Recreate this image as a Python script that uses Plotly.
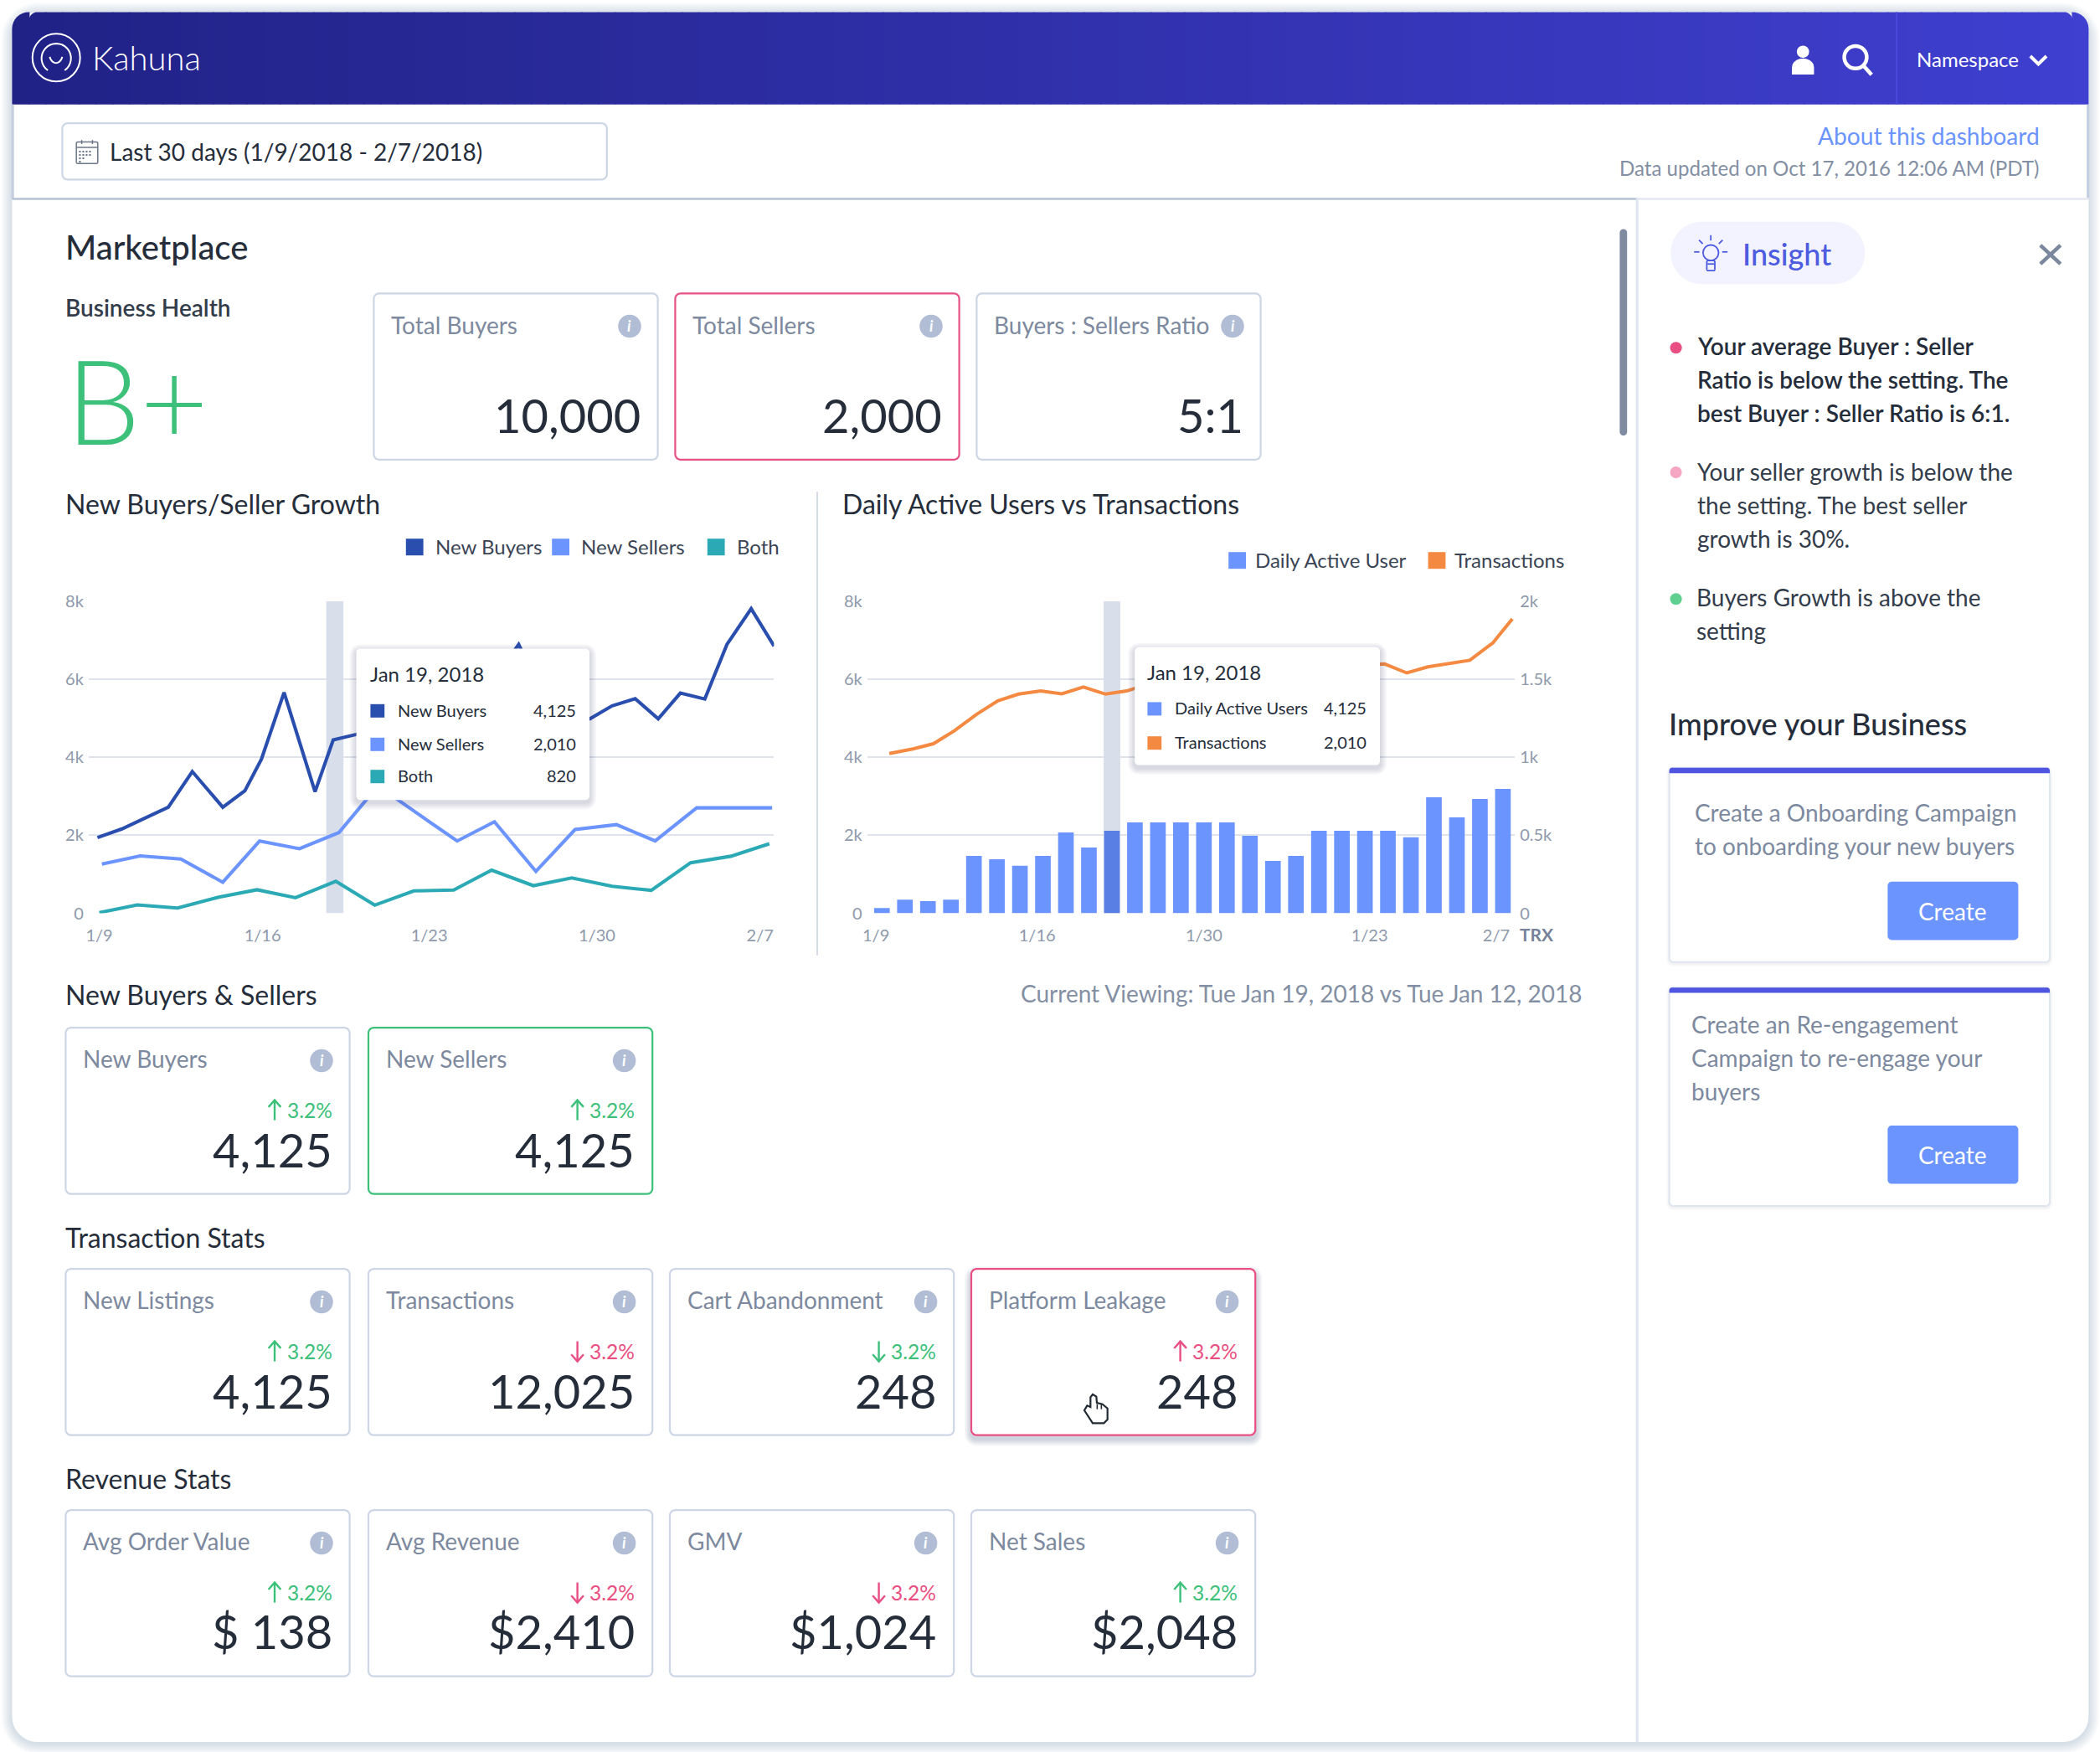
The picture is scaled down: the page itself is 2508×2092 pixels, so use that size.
import math
import plotly.graph_objects as go

# ---------- chart data ----------
buyers_day = [-0.04, 1.01, 2.0, 3.0, 4.03, 5.34, 6.29, 7.0, 7.97, 9.3, 10.08, 11.08, 12.1, 13.1, 14.1, 15.1, 16.1, 17.1,
              18.04, 19.09, 20.08, 21.1, 22.05, 23.04, 24.03, 24.98, 26.03, 26.98, 28.02, 29.0]
buyers_val = [1940, 2163, 2440, 2720, 3634, 2720, 3141, 3952, 5662, 3117, 4445, 4588, 4800, 5100, 4900, 5400, 5700, 6100,
              6895, 5600, 5200, 4986, 5320, 5503, 4986, 5646, 5495, 6895, 7809, 6855]
sellers_day = [0.15, 1.79, 3.54, 5.34, 6.92, 8.63, 10.32, 12.0, 13.71, 15.4, 17.0, 18.78, 20.46, 22.24, 23.9, 25.68, 27.3, 28.92]
sellers_val = [1264, 1471, 1392, 795, 1853, 1654, 2068, 3268, 2553, 1853, 2346, 1074, 2147, 2274, 1853, 2704, 2704, 2704]
both_day = [0.04, 1.67, 3.4, 5.17, 6.81, 8.46, 10.19, 11.86, 13.54, 15.25, 16.88, 18.67, 20.32, 22.05, 23.73, 25.42, 27.15, 28.8]
both_val = [16, 215, 135, 413, 604, 398, 819, 207, 573, 596, 1105, 708, 907, 692, 588, 1296, 1463, 1781]
growth_tick_pos = [0.04, 7.05, 14.2, 21.4, 28.4]
growth_tick_txt = ["1/9", "1/16", "1/23", "1/30", "2/7"]

dau_val = [135, 350, 310, 350, 1471, 1384, 1217, 1471, 2075, 1686, 2115, 2330, 2330, 2330, 2330, 2330, 1988, 1344, 1471,
           2115, 2115, 2115, 2115, 1948, 2974, 2457, 2934, 3189]
trx_day = [0.32, 1.35, 2.24, 3.16, 4.12, 5.04, 5.94, 6.9, 7.82, 8.76, 9.72, 10.64, 11.6, 12.55, 13.5, 14.4, 15.35, 16.3,
           17.25, 18.2, 19.1, 20.0, 20.95, 21.86, 22.82, 23.74, 24.64, 25.56, 26.56, 27.41]
trx_val = [1024, 1054, 1087, 1171, 1276, 1362, 1405, 1425, 1407, 1451, 1405, 1425, 1470, 1490, 1510, 1505, 1530, 1545,
           1540, 1560, 1575, 1570, 1590, 1598, 1541, 1580, 1602, 1622, 1733, 1887]
dau_tick_pos = [-0.26, 6.75, 14.0, 21.2, 26.71]
dau_tick_txt = ["1/9", "1/16", "1/30", "1/23", "2/7"]
left_tick_val = [0, 2000, 4000, 6000, 8000]
left_tick_txt = ["0", "2k", "4k", "6k", "8k"]
right_tick_val = [0, 500, 1000, 1500, 2000]
right_tick_txt = ["0", "0.5k", "1k", "1.5k", "2k"]

# ---------- KPI cards: (x0, y0, title, value, delta direction, delta colour, border) ----------
GREEN, PINK = "#3cc07a", "#e94f82"
row1 = [(279, 219, "Total Buyers", "10,000", None, None, None),
        (504, 219, "Total Sellers", "2,000", None, None, PINK),
        (729, 219, "Buyers : Sellers Ratio", "5:1", None, None, None)]
row2 = [(49, 767, "New Buyers", "4,125", 1, GREEN, None),
        (275, 767, "New Sellers", "4,125", 1, GREEN, GREEN)]
row3 = [(49, 947, "New Listings", "4,125", 1, GREEN, None),
        (275, 947, "Transactions", "12,025", -1, PINK, None),
        (500, 947, "Cart Abandonment", "248", -1, GREEN, None),
        (725, 947, "Platform Leakage", "248", 1, PINK, PINK)]
row4 = [(49, 1127, "Avg Order Value", "$ 138", 1, GREEN, None),
        (275, 1127, "Avg Revenue", "$2,410", -1, PINK, None),
        (500, 1127, "GMV", "$1,024", -1, PINK, None),
        (725, 1127, "Net Sales", "$2,048", 1, GREEN, None)]

# ---------- helpers (display coordinates x 1.6 = page pixels) ----------
W, H, S = 2508, 2092, 1.6
FONT = "Lato"
DARK, GREY, BORDER = "#252d3a", "#7c899e", "#ccd6e6"
BLUE, NAVY, TEAL, ORANGE = "#6b94ff", "#2a4eae", "#2ba9b5", "#f48a42"
GRID = "#dfe4ec"
shapes, notes = [], []
xp = lambda x: x * S / W
yp = lambda y: 1 - y * S / H


def path(points, close=False, fill=None, color=None, width=0, layer="below", opacity=1):
    d = "M" + " L".join(f"{xp(a):.5f},{yp(b):.5f}" for a, b in points) + (" Z" if close else "")
    shapes.append(dict(type="path", path=d, xref="paper", yref="paper", layer=layer, opacity=opacity,
                       fillcolor=fill or "rgba(0,0,0,0)",
                       line=dict(color=color or "rgba(0,0,0,0)", width=width)))


def arc(cx, cy, rx, ry, a0, a1, n=24):
    return [(cx + rx * math.cos(math.radians(a0 + (a1 - a0) * i / n)),
             cy + ry * math.sin(math.radians(a0 + (a1 - a0) * i / n))) for i in range(n + 1)]


def rrect_pts(x0, y0, x1, y1, r, tl=True, tr=True, br=True, bl=True):
    pts = []
    pts += arc(x0 + r, y0 + r, r, r, 180, 270, 8) if tl else [(x0, y0)]
    pts += arc(x1 - r, y0 + r, r, r, 270, 360, 8) if tr else [(x1, y0)]
    pts += arc(x1 - r, y1 - r, r, r, 0, 90, 8) if br else [(x1, y1)]
    pts += arc(x0 + r, y1 - r, r, r, 90, 180, 8) if bl else [(x0, y1)]
    return pts


def rrect(x0, y0, x1, y1, r, fill=None, color=None, width=0, layer="below", opacity=1, **corners):
    path(rrect_pts(x0, y0, x1, y1, r, **corners), True, fill, color, width, layer, opacity)


def shadow(x0, y0, x1, y1, r, spread=6, dy=2, layer="below", alpha=0.035):
    for i in range(spread, 0, -1):
        rrect(x0 - i, y0 - i + dy, x1 + i, y1 + i + dy, r + i, fill=f"rgba(60,75,110,{alpha})", layer=layer)


def line(x0, y0, x1, y1, color, width=2, layer="below"):
    path([(x0, y0), (x1, y1)], color=color, width=width, layer=layer)


def dot(cx, cy, r, fill=None, color=None, width=0, layer="below"):
    shapes.append(dict(type="circle", xref="paper", yref="paper", layer=layer,
                       x0=xp(cx - r), x1=xp(cx + r), y0=yp(cy + r), y1=yp(cy - r),
                       fillcolor=fill or "rgba(0,0,0,0)",
                       line=dict(color=color or "rgba(0,0,0,0)", width=width)))


def text(x, y, s, size, color=DARK, anchor="left", weight=400, style="normal"):
    dx = {"left": -0.8, "right": 0.6, "center": 0}[anchor]
    notes.append(dict(x=xp(x + dx), y=yp(y - 0.8), xref="paper", yref="paper", text=s, showarrow=False,
                      xanchor=anchor, yanchor="middle", align=anchor, borderpad=0,
                      font=dict(family=FONT, size=size, color=color, weight=weight, style=style)))


# ---------- page frame ----------
FX0, FY0, FX1, FY1 = 9, 9, 1559, 1300
shadow(FX0, FY0, FX1, FY1, 19, spread=8, dy=1, alpha=0.022)
rrect(FX0, FY0, FX1, FY1, 19, fill="white")

# header gradient
N = 124
c0, c1 = (33, 34, 134), (63, 63, 208)
for i in range(N):
    t = i / (N - 1)
    col = "rgb(%d,%d,%d)" % tuple(round(a + (b - a) * t) for a, b in zip(c0, c1))
    a = FX0 + (FX1 - FX0) * i / N
    b = FX0 + (FX1 - FX0) * (i + 1) / N + (0.6 if i < N - 1 else 0)
    if i == 0:
        rrect(a, FY0, b, 78, 12.5, fill=col, tl=True, tr=False, br=False, bl=False)
    elif i == 1:
        rrect(a, FY0, b, 78, 6.5, fill=col, tl=True, tr=False, br=False, bl=False)
    elif i == N - 1:
        rrect(a, FY0, b, 78, 12.5, fill=col, tl=False, tr=True, br=False, bl=False)
    elif i == N - 2:
        rrect(a, FY0, b, 78, 6.5, fill=col, tl=False, tr=True, br=False, bl=False)
    else:
        rrect(a, FY0, b, 78, 0, fill=col)
line(FX0 + 0.5, 78, FX0 + 0.5, 148, "#c3cee0", 3)
line(FX1 - 0.5, 78, FX1 - 0.5, 148, "#c3cee0", 3)
line(9, 148.5, 1222, 148.5, "#b6c2d6", 2.5)
line(1222, 148.5, 1559, 148.5, "#e3e8f1", 2.5)
line(1222, 148, 1222, 1300, "#dfe5ef", 3)
rrect(1209, 171, 1214.5, 325, 2.7, fill="#7f8ba0")

# logo
dot(42, 43, 17.8, color="white", width=2)
path(arc(42, 43.5, 11, 11, 125, 415), color="white", width=2)
path(arc(41.8, 40, 5, 7, 20, 160, 10), color="white", width=2)
text(69, 44, "Kahuna", 40, "white", weight=300)

# header right
dot(1345.8, 38.6, 4.6, fill="white")
path(arc(1345.8, 50, 8.2, 6.4, 180, 360, 10) + [(1354, 55.6), (1337.5, 55.6)], True, fill="white")
dot(1385, 42.7, 8.4, color="white", width=4.5)
line(1391, 49, 1397, 55.8, "white", 4.5)
line(1415.8, 9, 1415.8, 78, "#4a4bdc", 2)
text(1431, 45, "Namespace", 24, "white")
path([(1515.5, 41.9), (1521.5, 47.8), (1527.5, 41.9)], color="white", width=4)

# date picker
rrect(46.5, 92, 453, 134, 4, fill="white", color=BORDER, width=2.2)
rrect(57, 106, 73, 122, 1, color="#6b7688", width=1.5)
line(57, 110, 73, 110, "#6b7688", 1.5)
line(61, 104.5, 61, 107.5, "#6b7688", 1.5)
line(69, 104.5, 69, 107.5, "#6b7688", 1.5)
for yy, cells in ((112.5, 4), (115, 4), (117.5, 2), (120, 1)):
    for k in range(cells):
        shapes.append(dict(type="rect", xref="paper", yref="paper", layer="below", x0=xp(59 + 2.5 * k),
                           x1=xp(60.3 + 2.5 * k), y0=yp(yy + 1.3), y1=yp(yy), fillcolor="#6b7688", line_width=0))
text(81.8, 113.8, "Last 30 days (1/9/2018 - 2/7/2018)", 28)
text(1522.5, 102, "About this dashboard", 28.2, BLUE, "right")
text(1522, 126, "Data updated on Oct 17, 2016 12:06 AM (PDT)", 24.1, "#838fa3", "right")

# section headings
text(49, 185, "Marketplace", 40, DARK, weight=500)
text(49, 230, "Business Health", 28, "#333c4a", weight=600)
text(49, 377, "New Buyers/Seller Growth", 32)
text(629, 377, "Daily Active Users vs Transactions", 32)
text(49, 743, "New Buyers &amp; Sellers", 32)
text(1181, 742, "Current Viewing: Tue Jan 19, 2018 vs Tue Jan 12, 2018", 28, "#838fa3", "right")
text(49, 924, "Transaction Stats", 32)
text(49, 1104, "Revenue Stats", 32)
text(49.5, 299, "B+", 140, GREEN, weight=300)
line(610, 367, 610, 713, "#d5dbe6", 2)


# KPI cards
def card(x0, y0, title, value, direction, dcolor, border):
    x1, y1 = x0 + 212, y0 + 124
    if title == "Platform Leakage":
        shadow(x0, y0, x1, y1, 4, spread=5, dy=3, alpha=0.05)
    rrect(x0, y0, x1, y1, 4, fill="white", color=border or BORDER, width=2.2)
    text(x0 + 13, y0 + 24, title, 28, GREY)
    dot(x1 - 21, y0 + 24.5, 8.6, fill="#b0bdd4")
    text(x1 - 21, y0 + 25, "i", 18, "white", "center", 700, "italic")
    text(x1 - 13, y0 + 91.3, value, 56, DARK, "right")
    if direction is not None:
        text(x1 - 13, y0 + 62, "3.2%", 24.5, dcolor, "right")
        ax = x1 - 56
        top, bot = y0 + 54, y0 + 69
        line(ax, top, ax, bot, dcolor, 2.4)
        ty = top if direction > 0 else bot
        path([(ax - 4.6, ty + 5.2 * direction), (ax, ty), (ax + 4.6, ty + 5.2 * direction)], color=dcolor, width=2.4)


for row in (row1, row2, row3, row4):
    for c in row:
        card(*c)

# hand cursor on Platform Leakage
hand = [(525, 495), (538, 503), (540, 525), (560, 530), (578, 545), (578, 585), (565, 598), (525, 598), (495, 552),
        (505, 535), (517, 540), (517, 505)]
path([((1130 + a / 3) / S, (1500 + b / 3) / S) for a, b in hand], True, fill="white", color="#222a33", width=2.2)
for xx in (541, 556):
    line((1130 + xx / 3) / S, (1500 + 530 / 3) / S, (1130 + xx / 3) / S, (1500 + 548 / 3) / S, "#222a33", 1.6)

# chart legends
for x0, y0, c, lab, lx in ((303, 402, NAVY, "New Buyers", 325), (412, 402, BLUE, "New Sellers", 434), (528, 402, TEAL, "Both", 550),
                           (917, 412, BLUE, "Daily Active User", 937), (1066, 412, ORANGE, "Transactions", 1085.5)):
    shapes.append(dict(type="rect", xref="paper", yref="paper", layer="below", x0=xp(x0), x1=xp(x0 + 13), y0=yp(y0 + 12.5),
                       y1=yp(y0), fillcolor=c, line_width=0))
    text(lx, y0 + 6.5, lab, 24, "#3a4454")

# TRX axis caption
text(1147, 698, "TRX", 21, "#76839a", "center", 700)


# tooltips (above traces)
def tooltip(x0, y0, x1, y1, date, tx, rows, ry):
    shadow(x0, y0, x1, y1, 3, spread=5, dy=2, layer="above", alpha=0.045)
    rrect(x0, y0, x1, y1, 3, fill="white", layer="above")
    text(tx, y0 + 19.5, date, 24, DARK)
    for (c, lab, val), yy in zip(rows, ry):
        shapes.append(dict(type="rect", xref="paper", yref="paper", layer="above", x0=xp(tx), x1=xp(tx + 10.5), y0=yp(yy + 5),
                           y1=yp(yy - 5), fillcolor=c, line_width=0))
        text(tx + 20.5, yy, lab, 20, DARK)
        text(x1 - 10, yy, val, 20, DARK, "right")


tooltip(266, 484, 440, 597, "Jan 19, 2018", 276.5,
        [(NAVY, "New Buyers", "4,125"), (BLUE, "New Sellers", "2,010"), (TEAL, "Both", "820")], [530.5, 555.5, 579.5])
tooltip(847, 483, 1030, 571, "Jan 19, 2018", 856.5,
        [(BLUE, "Daily Active Users", "4,125"), (ORANGE, "Transactions", "2,010")], [529, 554.5])

# insight panel
rrect(1247, 165.5, 1392, 212, 23, fill="#f2f3fe")
BC = "#4d5be0"
dot(1277, 188.6, 5.8, color=BC, width=1.8)
line(1274.5, 197, 1279.5, 197, BC, 1.8)
rrect(1274, 194.5, 1280, 202, 1, color=BC, width=1.8)
for a in (180, 225, 270, 315, 360):
    r0, r1 = 8.5, 12.5
    line(1277 + r0 * math.cos(math.radians(a)), 188 + r0 * math.sin(math.radians(a)),
         1277 + r1 * math.cos(math.radians(a)), 188 + r1 * math.sin(math.radians(a)), BC, 1.8)
text(1301, 190, "Insight", 36, BC, weight=500)
line(1523, 183, 1538, 197, "#7a879c", 4.5)
line(1538, 183, 1523, 197, "#7a879c", 4.5)

dot(1251, 259.5, 4.4, fill=PINK)
for yy, s in ((259, "Your average Buyer : Seller"), (284, "Ratio is below the setting. The"), (309, "best Buyer : Seller Ratio is 6:1.")):
    text(1267.2, yy, s, 28, DARK, weight=600)
dot(1251, 352.5, 4.4, fill="#f4a6c2")
for yy, s in ((352.6, "Your seller growth is below the"), (377.6, "the setting. The best seller"), (402.6, "growth is 30%.")):
    text(1267.2, yy, s, 28, "#333c4a")
dot(1251, 447, 4.4, fill="#5fd08f")
for yy, s in ((446.6, "Buyers Growth is above the"), (471.6, "setting")):
    text(1266.2, yy, s, 28, "#333c4a")
text(1245.6, 541, "Improve your Business", 36, DARK, weight=500)


def promo(y0, y1, tx, lines, by0):
    shadow(1246, y0, 1530, y1, 3, spread=2, dy=1, alpha=0.03)
    rrect(1246, y0, 1530, y1, 3, fill="white", color="#dfe5ef", width=2)
    rrect(1246, y0, 1530, y0 + 4, 2, fill="#4f55e0", br=False, bl=False)
    for yy, s in lines:
        text(tx, yy, s, 28, GREY)
    rrect(1409, by0, 1506.5, by0 + 43.5, 3, fill=BLUE)
    text(1457.7, by0 + 22.5, "Create", 28, "white", "center")


promo(573, 718, 1265, ((607, "Create a Onboarding Campaign"), (632, "to onboarding your new buyers")), 658)
promo(737, 900, 1262.6, ((765, "Create an Re-engagement"), (790, "Campaign to re-engage your"), (815, "buyers")), 840)

# ---------- traces ----------
fig = go.Figure()
for name, xs, ys, col in (("New Buyers", buyers_day, buyers_val, NAVY), ("New Sellers", sellers_day, sellers_val, BLUE),
                          ("Both", both_day, both_val, TEAL)):
    fig.add_trace(go.Scatter(x=xs, y=ys, name=name, mode="lines", line=dict(color=col, width=4.1), showlegend=False,
                             xaxis="x", yaxis="y"))
HIGHLIGHT_GROWTH, HIGHLIGHT_BAR = 10.15, 10
fig.add_trace(go.Bar(x=list(range(len(dau_val))), y=dau_val, name="Daily Active User", width=0.68, showlegend=False,
                     marker=dict(color=["#5a7fe4" if i == HIGHLIGHT_BAR else BLUE for i in range(len(dau_val))], line_width=0),
                     xaxis="x2", yaxis="y2"))
fig.add_trace(go.Scatter(x=trx_day, y=trx_val, name="Transactions", mode="lines", line=dict(color=ORANGE, width=4),
                         showlegend=False, xaxis="x2", yaxis="y3"))

# highlight bands
for xr, yr, c, hw in (("x", "y", HIGHLIGHT_GROWTH, 0.37), ("x2", "y2", HIGHLIGHT_BAR, 0.365)):
    shapes.append(dict(type="rect", xref=xr, yref=yr, layer="between", x0=c - hw, x1=c + hw, y0=0, y1=8000,
                       fillcolor="#d8dfea", line_width=0))

tick = dict(family=FONT, size=20, color="#8e99ab")
common_x = dict(showgrid=False, zeroline=False, showline=False, tickmode="array", ticks="outside", ticklen=0,
                ticklabelstandoff=8, tickfont=tick, automargin=False)
common_y = dict(showgrid=True, gridcolor=GRID, gridwidth=1.6, zeroline=False, showline=False, tickmode="array", ticks="",
                range=[0, 8000], tickfont=tick, domain=[1 - 1090.5 / H, 1 - 718 / H], ticklabelstandoff=5,
                tickvals=left_tick_val, ticktext=left_tick_txt, automargin=False)
fig.update_layout(
    width=W, height=H, margin=dict(l=0, r=0, t=0, b=0, pad=0, autoexpand=False), autosize=False,
    paper_bgcolor="white", plot_bgcolor="rgba(0,0,0,0)", font=dict(family=FONT), showlegend=False,
    shapes=shapes, annotations=notes, hovermode=False,
    xaxis=dict(common_x, domain=[105.8 / W, 924.4 / W], range=[-0.42, 29.0], tickvals=growth_tick_pos,
               ticktext=growth_tick_txt, anchor="y"),
    yaxis=dict(common_y, anchor="x"),
    xaxis2=dict(common_x, domain=[1035.7 / W, 1809.2 / W], range=[-0.64, 27.52], tickvals=dau_tick_pos,
                ticktext=dau_tick_txt, anchor="y2"),
    yaxis2=dict(common_y, anchor="x2"),
    yaxis3=dict(common_y, showgrid=False, overlaying="y2", side="right", anchor="x2", range=[0, 2000],
                tickvals=right_tick_val, ticktext=right_tick_txt, ticklabelstandoff=5),
)
fig.write_html("out.html", config={"displayModeBar": False},
               post_script="document.body.style.margin='0';document.body.style.overflow='hidden';")
